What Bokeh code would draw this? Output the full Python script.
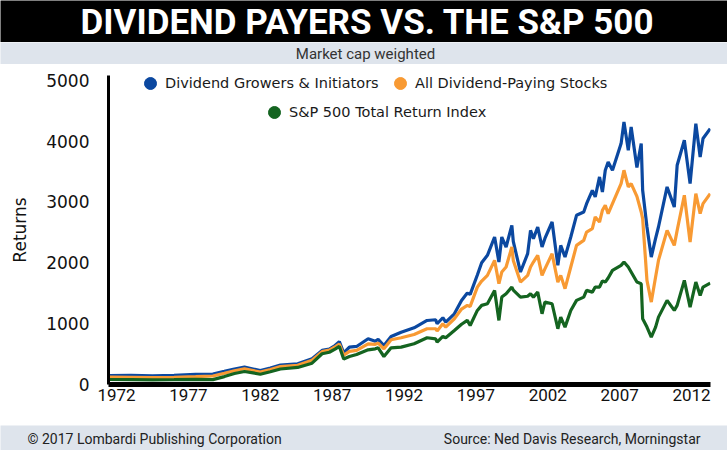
import math
from bokeh.plotting import figure
from bokeh.layouts import column
from bokeh.models import (Legend, LegendItem, Label, FixedTicker,
                          ColumnDataSource, Range1d)
from bokeh.embed import file_html
from bokeh.resources import INLINE

# ---------------- data ----------------
years = [1971.5, 1973.0, 1974.5, 1976.0, 1977.5, 1978.7, 1979.5, 1980.2, 1980.9, 1981.5,
         1982.0, 1982.7, 1983.4, 1984.6, 1985.6, 1986.3, 1986.8, 1987.2, 1987.5, 1987.8,
         1988.2, 1988.7, 1989.5, 1990.0, 1990.2, 1990.6, 1991.1, 1991.8, 1992.7, 1993.6,
         1994.2, 1994.3, 1994.7, 1994.9, 1995.5, 1996.0, 1996.4, 1996.6, 1997.1, 1997.4,
         1997.8, 1998.3, 1998.6, 1998.8, 1999.1, 1999.5, 1999.6, 2000.1, 2000.6, 2000.8,
         2001.0, 2001.3, 2001.6, 2001.8, 2002.3, 2002.7, 2002.9, 2003.2, 2003.6, 2004.0,
         2004.5, 2004.7, 2005.1, 2005.3, 2005.6, 2005.8, 2006.0, 2006.2, 2006.5, 2007.1,
         2007.3, 2007.6, 2007.8, 2008.2, 2008.5, 2008.6, 2008.9, 2009.2, 2009.5, 2009.7,
         2010.3, 2010.8, 2011.0, 2011.5, 2011.9, 2012.3, 2012.6, 2012.8, 2013.3]

growers = [148, 150, 142, 150, 165, 172, 215, 255, 285, 255,
           230, 270, 318, 340, 422, 560, 580, 640, 705, 520,
           615, 625, 751, 712, 740, 641, 789, 860, 932, 1052,
           1064, 998, 1097, 1025, 1162, 1380, 1502, 1480, 1800, 2000,
           2122, 2423, 2012, 2423, 2259, 2615, 2350, 1848, 2150, 2533,
           2396, 2588, 2259, 2400, 2670, 1957, 2286, 2094, 2423, 2780,
           2834, 2971, 3191, 3081, 3410, 3163, 3520, 3656, 3520, 3958,
           4315, 3849, 4232, 3564, 3958, 3191, 2588, 2094, 2400, 2588,
           3246, 2916, 3602, 4013, 3301, 4287, 3739, 4041, 4205]

all_payers = [120, 118, 112, 118, 130, 140, 185, 225, 258, 228,
              203, 245, 294, 316, 400, 540, 565, 620, 665, 480,
              545, 560, 669, 660, 680, 586, 735, 768, 822, 916,
              916, 880, 998, 943, 1080, 1240, 1299, 1283, 1600, 1700,
              1793, 2039, 1656, 1848, 1930, 2259, 2039, 1683, 1793, 1930,
              2012, 2122, 1793, 1900, 2148, 1683, 1793, 1574, 1930, 2286,
              2368, 2505, 2560, 2752, 2670, 2862, 2944, 2807, 2971, 3301,
              3520, 3246, 3301, 3092, 2834, 2725, 1711, 1354, 1765, 2039,
              2533, 2286, 2533, 3109, 2341, 3136, 2807, 2971, 3136]

sp500 = [82, 80, 76, 80, 85, 80, 130, 180, 214, 190,
         168, 210, 255, 280, 350, 505, 530, 580, 625, 420,
         460, 493, 570, 586, 603, 460, 603, 614, 669, 768,
         751, 696, 789, 768, 888, 990, 1053, 970, 1217, 1300,
         1327, 1546, 1053, 1436, 1491, 1601, 1550, 1436, 1450, 1491,
         1436, 1518, 1162, 1354, 1327, 916, 1107, 943, 1217, 1382,
         1436, 1546, 1518, 1601, 1601, 1700, 1683, 1750, 1875, 1957,
         2012, 1930, 1848, 1683, 1656, 1080, 943, 778, 943, 1107,
         1382, 1217, 1300, 1711, 1272, 1683, 1464, 1600, 1666]

series_names = ["Dividend Growers & Initiators", "All Dividend-Paying Stocks",
                "S&P 500 Total Return Index"]
x_ticks = [1972, 1977, 1982, 1987, 1992, 1997, 2002, 2007, 2012]
y_ticks = [0, 1000, 2000, 3000, 4000, 5000]

title_text = "DIVIDEND PAYERS VS. THE S&P 500"
subtitle_text = "Market cap weighted"
footer_left = "\u00a9 2017 Lombardi Publishing Corporation"
footer_right = "Source: Ned Davis Research, Morningstar"

# ---------------- style ----------------
BLUE = "#0b48a0"
ORANGE = "#f89a33"
GREEN = "#146420"
BAND = "#dee4ec"

W = 727
H_TITLE, H_SUB, H_FOOT = 42, 22, 25
H_MAIN = 450 - H_TITLE - H_SUB - H_FOOT   # 361


def band(height, color):
    f = figure(width=W, height=height, output_backend="svg", toolbar_location=None,
               x_range=Range1d(0, W), y_range=Range1d(0, height),
               x_axis_type=None, y_axis_type=None, min_border=0,
               frame_align=False)
    f.background_fill_color = color
    f.border_fill_color = color
    f.outline_line_color = None
    f.grid.visible = False
    return f


def label(f, text, x, y, size, align, color, font="Roboto", style="normal"):
    f.add_layout(Label(x=x, y=y, text=text, text_align=align, text_baseline="middle",
                       text_font=font, text_font_size=size,
                       text_font_style=style, text_color=color))


title_fig = band(H_TITLE, "black")
label(title_fig, title_text, 367, 20, "35px", "center", "white", style="bold")

sub_fig = band(H_SUB, BAND)
label(sub_fig, subtitle_text, 365, 11, "15px", "center", "#333333")

foot_fig = band(H_FOOT, BAND)
label(foot_fig, footer_left, 27, 12, "14px", "left", "#222222")
label(foot_fig, footer_right, 700, 12, "14px", "right", "#222222")

# ---------------- main chart ----------------
# frame: x 108..710, y 75..384 (page pixels)
top_off = 75 - (H_TITLE + H_SUB)
bot_off = (H_TITLE + H_SUB + H_MAIN) - 384
p = figure(width=W, height=H_MAIN, output_backend="svg", toolbar_location=None,
           x_range=Range1d(1971.44, 2013.32), y_range=Range1d(0, 5077),
           min_border_left=108, min_border_right=W - 710,
           min_border_top=top_off, min_border_bottom=bot_off,
           frame_align=False)
p.background_fill_color = "white"
p.border_fill_color = "white"
p.outline_line_color = None
p.grid.visible = False

src = ColumnDataSource(dict(year=years, g=growers, a=all_payers, s=sp500))
p.line("year", "g", source=src, line_color=BLUE, line_width=3.2)
p.line("year", "a", source=src, line_color=ORANGE, line_width=3.2)
p.line("year", "s", source=src, line_color=GREEN, line_width=3.2)

p.xaxis.ticker = FixedTicker(ticks=x_ticks)
p.yaxis.ticker = FixedTicker(ticks=y_ticks)
p.xaxis.axis_line_width = 5
p.yaxis.axis_line_width = 3
p.axis.axis_line_color = "black"
p.axis.major_tick_line_color = None
p.axis.minor_tick_line_color = None
p.axis.major_tick_out = 0
p.axis.major_tick_in = 0
p.xaxis.major_label_text_font = "Roboto"
p.xaxis.major_label_text_font_size = "17px"
p.xaxis.major_label_text_color = "#111111"
p.xaxis.major_label_standoff = 4
p.yaxis.major_label_text_font = "DejaVu Sans"
p.yaxis.major_label_text_font_size = "17px"
p.yaxis.major_label_text_color = "#111111"
p.yaxis.major_label_standoff = 19
p.yaxis.axis_label = "Returns"
p.yaxis.axis_label_text_font = "DejaVu Sans"
p.yaxis.axis_label_text_font_style = "normal"
p.yaxis.axis_label_text_font_size = "17px"
p.yaxis.axis_label_text_color = "#111111"
p.yaxis.axis_label_standoff = 13


def dot(col):
    d = ColumnDataSource(dict(x=[math.nan], y=[math.nan]))
    return p.scatter("x", "y", source=d, marker="circle", size=12,
                     fill_color=col, line_color=col)


for name, col, loc in [(series_names[0], BLUE, (27, 286)),
                       (series_names[1], ORANGE, (277, 286)),
                       (series_names[2], GREEN, (151, 257))]:
    r = dot(col)
    lg = Legend(items=[LegendItem(label=name, renderers=[r])], location=loc,
                orientation="horizontal", glyph_width=30, glyph_height=30,
                label_standoff=0, padding=0, margin=0, spacing=0,
                background_fill_alpha=0, border_line_alpha=0,
                label_text_font="DejaVu Sans", label_text_font_size="14.5px",
                label_text_color="#1a1a1a")
    p.add_layout(lg)

layout = column(title_fig, sub_fig, p, foot_fig, spacing=0)
open("out.html", "w").write(file_html(layout, INLINE))
